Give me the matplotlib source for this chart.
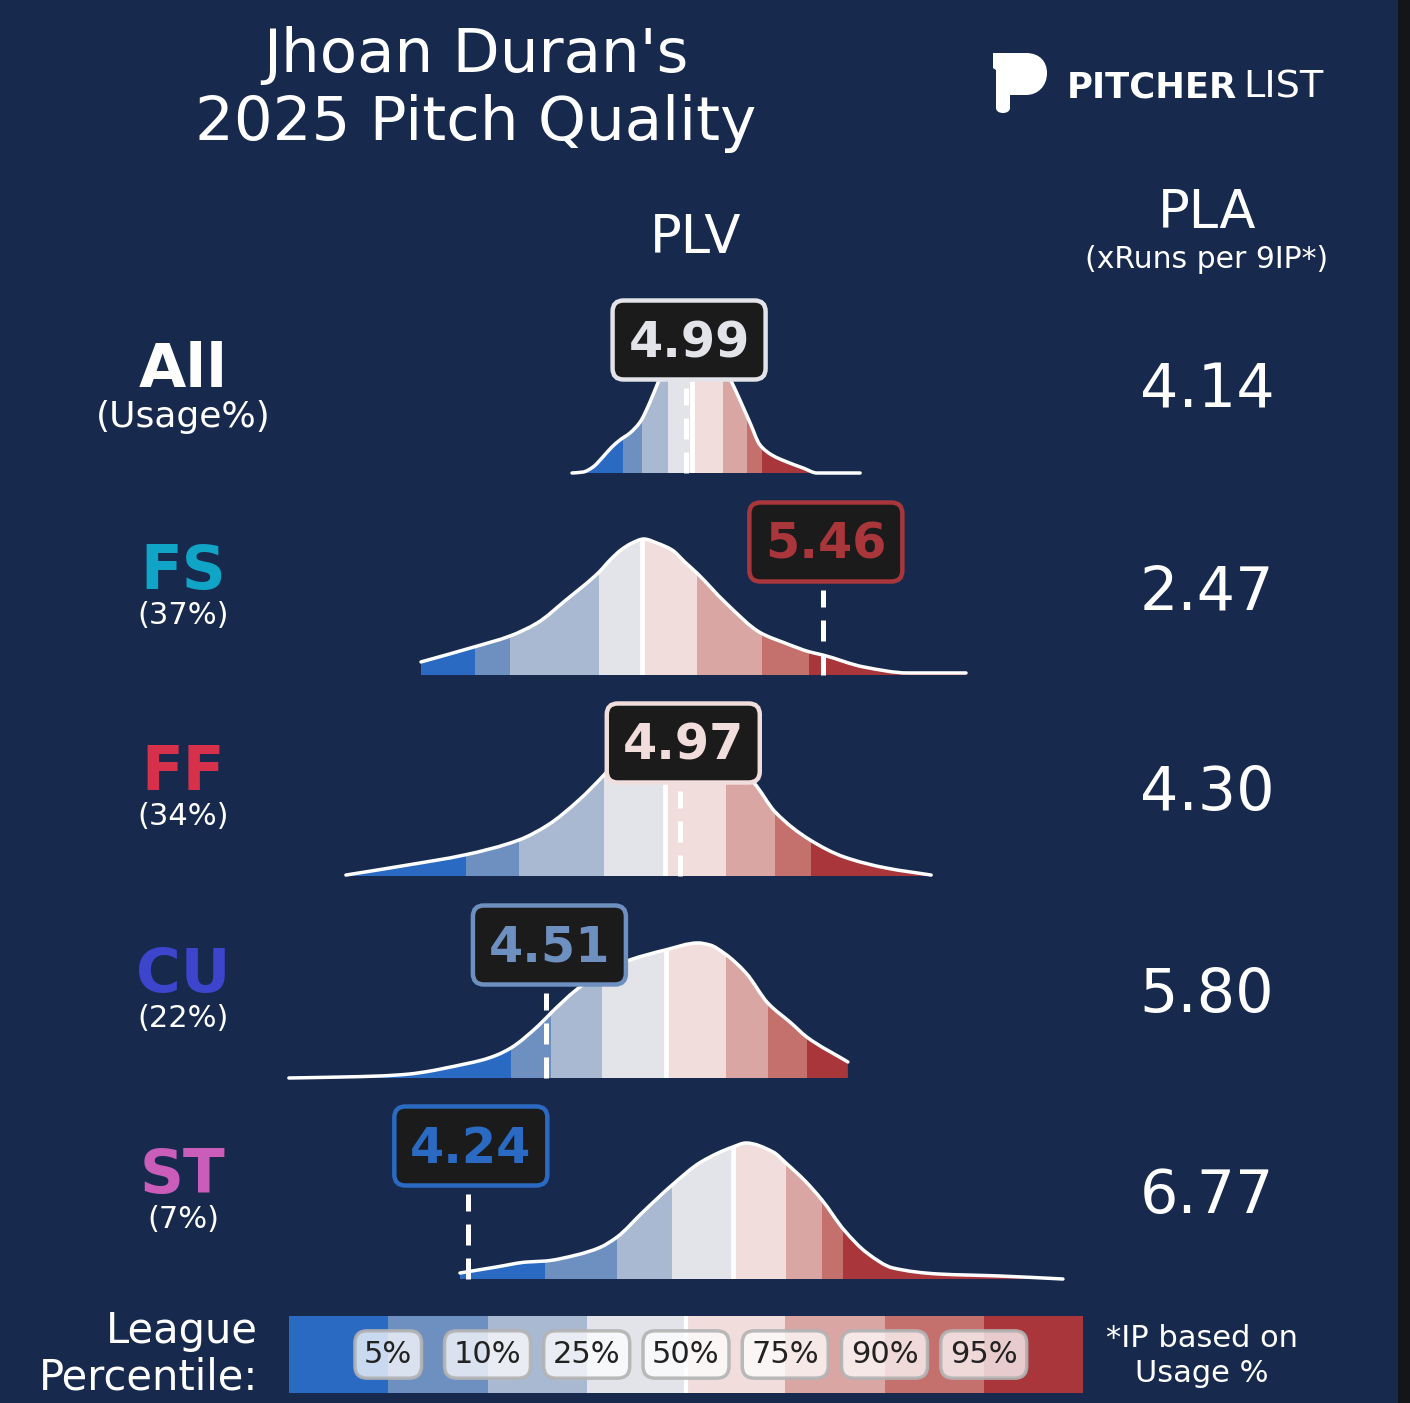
import numpy as np
import matplotlib
matplotlib.use("Agg")
import matplotlib.pyplot as plt
from matplotlib.patches import FancyBboxPatch, Rectangle, PathPatch
from matplotlib.path import Path
from matplotlib.transforms import IdentityTransform

# ---------------- data ----------------
pitch_names = ["All", "FS", "FF", "CU", "ST"]
usage_labels = ["(Usage%)", "(37%)", "(34%)", "(22%)", "(7%)"]
pitch_colors = ["#ffffff", "#10a4c7", "#d7304b", "#3c45cc", "#c95db9"]
plv_values = [4.99, 5.46, 4.97, 4.51, 4.24]
pla_values = [4.14, 2.47, 4.30, 5.80, 6.77]

percentile_labels = ["5%", "10%", "25%", "50%", "75%", "90%", "95%"]
band_colors = ["#2a6ac2", "#6e90c0", "#a9b9d2", "#e3e4ea",
               "#f2dddd", "#daa6a3", "#c4706c", "#a8363a"]

# league PLV at the 5/10/25/50/75/90/95th percentiles, per pitch type
all_pct = [4.773, 4.838, 4.928, 5.010, 5.117, 5.199, 5.251]
fs_pct = [4.265, 4.385, 4.691, 4.838, 5.027, 5.251, 5.412]
ff_pct = [4.234, 4.416, 4.708, 4.918, 5.127, 5.296, 5.419]
cu_pct = [4.388, 4.526, 4.701, 4.921, 5.127, 5.271, 5.405]
st_pct = [4.505, 4.753, 4.942, 5.151, 5.333, 5.457, 5.529]

# league PLV density curves (relative height, peak = 1)
all_plv = [4.598, 4.636, 4.670, 4.704, 4.735, 4.763, 4.797, 4.832, 4.866, 4.893,
           4.928, 4.969, 5.010, 5.055, 5.107, 5.148, 5.175, 5.210, 5.244, 5.285,
           5.337, 5.392, 5.440, 5.588]
all_den = [0.0, 0.007, 0.044, 0.118, 0.191, 0.243, 0.294, 0.375, 0.522, 0.662,
           0.83, 0.956, 1.0, 0.963, 0.83, 0.662, 0.537, 0.368, 0.206, 0.132,
           0.081, 0.037, 0.0, 0.0]

fs_plv = [4.079, 4.261, 4.385, 4.478, 4.577, 4.691, 4.729, 4.766, 4.804, 4.845,
          4.890, 4.942, 4.986, 5.027, 5.127, 5.247, 5.330, 5.416, 5.460, 5.601,
          5.753, 5.952]
fs_den = [0.096, 0.206, 0.287, 0.382, 0.551, 0.757, 0.846, 0.919, 0.97, 1.0,
          0.97, 0.919, 0.83, 0.75, 0.529, 0.309, 0.235, 0.169, 0.147, 0.059,
          0.015, 0.015]

ff_plv = [3.821, 4.034, 4.227, 4.416, 4.515, 4.622, 4.708, 4.763, 4.832, 4.900,
          4.969, 5.038, 5.124, 5.223, 5.296, 5.416, 5.533, 5.677, 5.832]
ff_den = [0.007, 0.081, 0.154, 0.265, 0.375, 0.559, 0.743, 0.875, 0.956, 1.0,
          1.0, 0.963, 0.853, 0.684, 0.471, 0.265, 0.140, 0.059, 0.007]

cu_plv = [3.625, 3.801, 3.938, 4.038, 4.110, 4.165, 4.230, 4.289, 4.340, 4.388,
          4.485, 4.529, 4.612, 4.701, 4.797, 4.918, 5.031, 5.072, 5.120, 5.196,
          5.271, 5.351, 5.405, 5.546]
cu_den = [0.0, 0.007, 0.015, 0.029, 0.051, 0.074, 0.103, 0.132, 0.169, 0.221,
          0.390, 0.485, 0.647, 0.779, 0.868, 0.941, 0.993, 0.978, 0.919, 0.772,
          0.551, 0.404, 0.301, 0.118]

st_plv = [4.213, 4.337, 4.443, 4.505, 4.612, 4.694, 4.753, 4.842, 4.942, 5.041,
          5.151, 5.196, 5.289, 5.333, 5.399, 5.457, 5.533, 5.612, 5.701, 5.856,
          6.069, 6.285]
st_den = [0.044, 0.088, 0.125, 0.132, 0.176, 0.232, 0.309, 0.493, 0.691, 0.860,
          0.971, 1.0, 0.934, 0.853, 0.721, 0.581, 0.360, 0.191, 0.081, 0.037,
          0.022, 0.0]

row_pct = [all_pct, fs_pct, ff_pct, cu_pct, st_pct]
row_plv = [all_plv, fs_plv, ff_plv, cu_plv, st_plv]
row_den = [all_den, fs_den, ff_den, cu_den, st_den]


def smooth_path(xs, ds, closed):
    """Monotone cubic Bezier path through the given points (drawing style only)."""
    x = np.asarray(xs, float)
    y = np.asarray(ds, float)
    n = len(x)
    h = np.diff(x)
    s = np.diff(y) / h
    m = np.zeros(n)
    m[0], m[-1] = s[0], s[-1]
    for k in range(1, n - 1):
        if s[k - 1] * s[k] > 0:
            w1 = 2 * h[k] + h[k - 1]
            w2 = h[k] + 2 * h[k - 1]
            m[k] = (w1 + w2) / (w1 / s[k - 1] + w2 / s[k])
        else:
            m[k] = 0.0
    verts, codes = [], []
    if closed:
        verts += [(x[0], 0.0), (x[0], y[0])]
        codes += [Path.MOVETO, Path.LINETO]
    else:
        verts += [(x[0], y[0])]
        codes += [Path.MOVETO]
    for k in range(n - 1):
        c1 = (x[k] + h[k] / 3, y[k] + m[k] * h[k] / 3)
        c2 = (x[k + 1] - h[k] / 3, y[k + 1] - m[k + 1] * h[k] / 3)
        verts += [c1, c2, (x[k + 1], y[k + 1])]
        codes += [Path.CURVE4] * 3
    if closed:
        verts += [(x[-1], 0.0), (x[0], 0.0)]
        codes += [Path.LINETO, Path.CLOSEPOLY]
    return Path(verts, codes)


# ---------------- layout ----------------
W, H, DPI = 1410, 1403, 100
BG = "#172a4e"
plt.rcParams['font.family'] = ['DejaVu Sans']

fig = plt.figure(figsize=(W / DPI, H / DPI), dpi=DPI, facecolor=BG)

lay = fig.add_axes([0, 0, 1, 1])
lay.set_xlim(0, W)
lay.set_ylim(H, 0)
lay.axis('off')
lay.add_patch(Rectangle((1398, 0), 12, H, color="#141519", lw=0))

lay.text(476, 72, "Jhoan Duran's", ha='center', va='baseline', fontsize=44, color='white')
lay.text(476, 140, "2025 Pitch Quality", ha='center', va='baseline', fontsize=44, color='white')
lay.text(696, 253, "PLV", ha='center', va='baseline', fontsize=38, color='white')
lay.text(1207, 228, "PLA", ha='center', va='baseline', fontsize=38, color='white')
lay.text(1207, 268, "(xRuns per 9IP*)", ha='center', va='baseline', fontsize=21.5, color='white')

# logo
P = Path.MOVETO; L = Path.LINETO; C = Path.CURVE4; Z = Path.CLOSEPOLY
verts = [(993, 53), (1026, 53), (1040, 53), (1047, 62), (1047, 73),
         (1047, 86), (1038, 95), (1026, 95), (1010, 95), (1010, 108),
         (1010, 111), (1007, 113), (1003, 113), (999, 113), (996, 111), (996, 108),
         (996, 70), (993, 68), (993, 53),
         (1010, 70), (1024, 67), (1030, 67), (1033, 70), (1033, 74),
         (1033, 78), (1030, 81), (1024, 81), (1010, 81), (1010, 70)]
codes = [P, L, C, C, C, C, C, C, L, L, C, C, C, C, C, C, L, L, Z,
         P, L, C, C, C, C, C, C, L, Z]
lay.add_patch(PathPatch(Path(verts, codes), fc='white', ec='none'))
lay.text(1067, 97, "PITCHER", ha='left', va='baseline', fontsize=25.5,
         fontweight='bold', color='white')
lay.text(1243, 97, "LIST", ha='left', va='baseline', fontsize=27.5,
         fontweight='normal', color='white')

X0 = 5 - 689 / 291
X1 = 5 + (W - 689) / 291
baselines = [473, 675, 876, 1078, 1279]
PEAK = 136
YTOP = 1.05

for i in range(5):
    base = baselines[i]
    xs, ds, pct = row_plv[i], row_den[i], row_pct[i]
    ax = fig.add_axes([0, (H - base) / H, 1, PEAK * YTOP / H])
    ax.set_xlim(X0, X1)
    ax.set_ylim(0, YTOP)
    ax.axis('off')

    clip = PathPatch(smooth_path(xs, ds, True), fc='none', ec='none',
                     transform=ax.transData)
    ax.add_patch(clip)
    bounds = [xs[0]] + pct + [xs[-1]]
    for j in range(8):
        r = ax.axvspan(bounds[j], bounds[j + 1], color=band_colors[j], lw=0, zorder=1)
        r.set_clip_path(clip)
    med = ax.axvline(pct[3], color='white', lw=3.4, zorder=2)
    med.set_clip_path(clip)
    ax.add_patch(PathPatch(smooth_path(xs, ds, False), fc='none', ec='white',
                           lw=2.5, zorder=4, clip_on=False, capstyle='round',
                           joinstyle='round'))

    v = plv_values[i]
    ax.plot([v, v], [0, 85 / PEAK], color='white', lw=3.6,
            linestyle=(0, (4.2, 2.6)), zorder=3, clip_on=False)

    band = int(np.searchsorted(pct, v))
    col = band_colors[band]
    X, Yb = ax.transData.transform((v, 0))
    cx, cy = X + 3, Yb + 133
    box = FancyBboxPatch((cx - 76.5, cy - 39.5), 153, 79,
                         boxstyle="round,pad=0,rounding_size=11",
                         transform=IdentityTransform(), fc="#1b1b1b", ec=col,
                         lw=3.2, zorder=5)
    fig.add_artist(box)
    fig.text(cx, cy - 17, f"{v:.2f}", transform=IdentityTransform(), ha='center',
             va='baseline', fontsize=35.5, fontweight='bold', color=col, zorder=6)

    lay.text(183, base - 86, pitch_names[i], ha='center', va='baseline',
             fontsize=44, fontweight='bold', color=pitch_colors[i])
    if i == 0:
        lay.text(183, base - 46, usage_labels[i], ha='center', va='baseline',
                 fontsize=26, color='white')
    else:
        lay.text(183, base - 51, usage_labels[i], ha='center', va='baseline',
                 fontsize=22, color='white')
    lay.text(1207, base - 66, f"{pla_values[i]:.2f}", ha='center', va='baseline',
             fontsize=43.5, color='white')

# ---------------- legend ----------------
leg = fig.add_axes([289 / W, (H - 1393) / H, 794 / W, 77 / H])
leg.bar(np.arange(8), np.ones(8), width=1, align='edge', color=band_colors, lw=0)
leg.axvline(4, color='white', lw=3)
leg.set_xlim(0, 8)
leg.set_ylim(0, 1)
leg.axis('off')
for k, lab in enumerate(percentile_labels):
    leg.text(k + 1, 0.5, lab, ha='center', va='center', fontsize=22, color='#222222',
             bbox=dict(boxstyle='round,pad=0.3,rounding_size=0.4',
                       fc=(1, 1, 1, 0.75), ec=(0.70, 0.70, 0.70, 0.9), lw=2.5))

lay.text(258, 1343, "League", ha='right', va='baseline', fontsize=30, color='white')
lay.text(258, 1390, "Percentile:", ha='right', va='baseline', fontsize=30, color='white')
lay.text(1202, 1347, "*IP based on", ha='center', va='baseline', fontsize=22, color='white')
lay.text(1202, 1382, "Usage %", ha='center', va='baseline', fontsize=22, color='white')

fig.savefig("out.png", dpi=DPI, facecolor=BG)
